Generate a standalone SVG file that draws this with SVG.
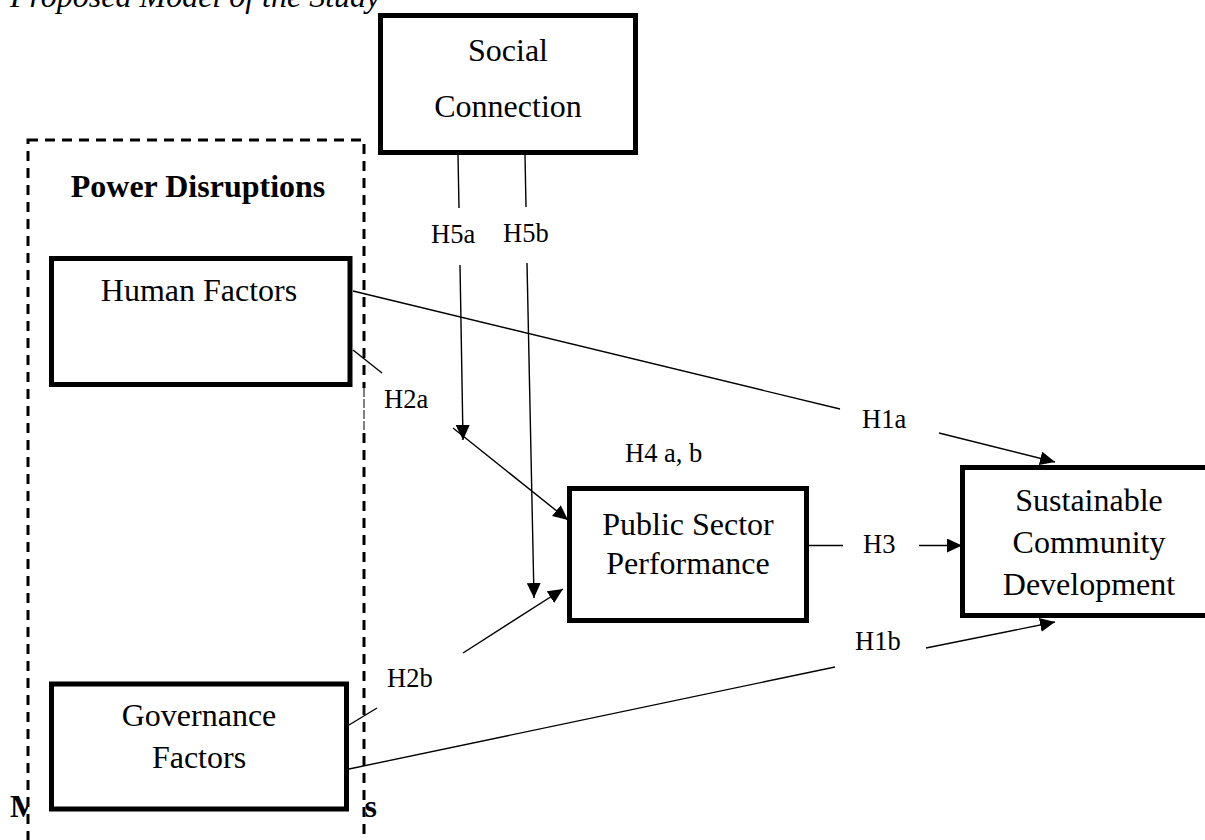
<svg xmlns="http://www.w3.org/2000/svg" width="1205" height="840" viewBox="0 0 1205 840">
<style>
.box{fill:#fff;stroke:#000;stroke-width:5}
.txt{font-family:"Liberation Serif","Times New Roman",serif;font-size:32px;fill:#000}
.lbl{font-family:"Liberation Serif","Times New Roman",serif;font-size:26.5px;fill:#000}
.c{stroke:#000;stroke-width:1.4;fill:none}
.a{marker-end:url(#arr)}
</style>
<defs>
<marker id="arr" markerUnits="userSpaceOnUse" markerWidth="16" markerHeight="14" refX="15" refY="7" orient="auto">
<path d="M0,0 L15,7 L0,14 z" fill="#000"/>
</marker>
</defs>
<rect width="1205" height="840" fill="#fff"/>
<text class="txt" x="10" y="7" font-style="italic">Proposed Model of the Study</text>
<g id="moderating-label">
<text class="txt" x="10" y="817" font-weight="bold">M</text>
<text class="txt" x="364.5" y="817" font-weight="bold">s</text>
</g>
<g id="power-disruptions">
<rect x="28" y="140" width="336" height="720" fill="#fff" stroke="#000" stroke-width="3" stroke-dasharray="10 7"/>
<rect x="362" y="388" width="4" height="42" fill="#fff"/>
<line x1="364" y1="388" x2="364" y2="430" stroke="#000" stroke-width="1" stroke-dasharray="9 2"/>
<text class="txt" x="198" y="197" font-weight="bold" text-anchor="middle">Power Disruptions</text>
</g>
<g id="social-connection">
<rect class="box" x="380.5" y="15.5" width="255" height="137"/>
<text class="txt" x="508" y="61" text-anchor="middle">Social</text>
<text class="txt" x="508" y="117" text-anchor="middle">Connection</text>
</g>
<g id="human-factors">
<rect class="box" x="51.5" y="258.5" width="298.5" height="126"/>
<text class="txt" x="199" y="301" text-anchor="middle">Human Factors</text>
</g>
<g id="governance-factors">
<rect class="box" x="51.5" y="684" width="295" height="125"/>
<text class="txt" x="199" y="726" text-anchor="middle">Governance</text>
<text class="txt" x="199" y="768" text-anchor="middle">Factors</text>
</g>
<g id="public-sector-performance">
<rect class="box" x="569.5" y="488.5" width="237" height="132"/>
<text class="txt" x="688" y="535" text-anchor="middle">Public Sector</text>
<text class="txt" x="688" y="574" text-anchor="middle">Performance</text>
</g>
<g id="sustainable-community-development">
<rect class="box" x="962.5" y="467.5" width="270" height="148"/>
<text class="txt" x="1089" y="511" text-anchor="middle">Sustainable</text>
<text class="txt" x="1089" y="553" text-anchor="middle">Community</text>
<text class="txt" x="1089" y="595" text-anchor="middle">Development</text>
</g>
<g id="connectors">
<line class="c" x1="458" y1="155" x2="459" y2="208"/>
<line class="c a" x1="460" y1="265" x2="463" y2="440"/>
<line class="c" x1="525" y1="155" x2="526" y2="207"/>
<line class="c a" x1="527" y1="263" x2="534" y2="598"/>
<line class="c a" x1="453" y1="428" x2="568" y2="520"/>
<line class="c" x1="353" y1="350" x2="382" y2="373"/>
<line class="c" x1="353" y1="291" x2="840" y2="409"/>
<line class="c a" x1="939" y1="433" x2="1055" y2="462"/>
<line class="c" x1="809" y1="545.5" x2="843" y2="545.5"/>
<line class="c a" x1="919" y1="545.5" x2="962" y2="545.5"/>
<line class="c" x1="349" y1="725" x2="377" y2="708"/>
<line class="c a" x1="463" y1="653" x2="563" y2="589"/>
<line class="c" x1="349" y1="769" x2="835" y2="667"/>
<line class="c a" x1="926" y1="648" x2="1055" y2="622"/>
</g>
<g id="labels">
<text class="lbl" x="431" y="243">H5a</text>
<text class="lbl" x="503" y="242">H5b</text>
<text class="lbl" x="384" y="408">H2a</text>
<text class="lbl" x="625" y="462">H4 a, b</text>
<text class="lbl" x="862" y="428">H1a</text>
<text class="lbl" x="863" y="553">H3</text>
<text class="lbl" x="855" y="650">H1b</text>
<text class="lbl" x="387" y="687">H2b</text>
</g>
</svg>
